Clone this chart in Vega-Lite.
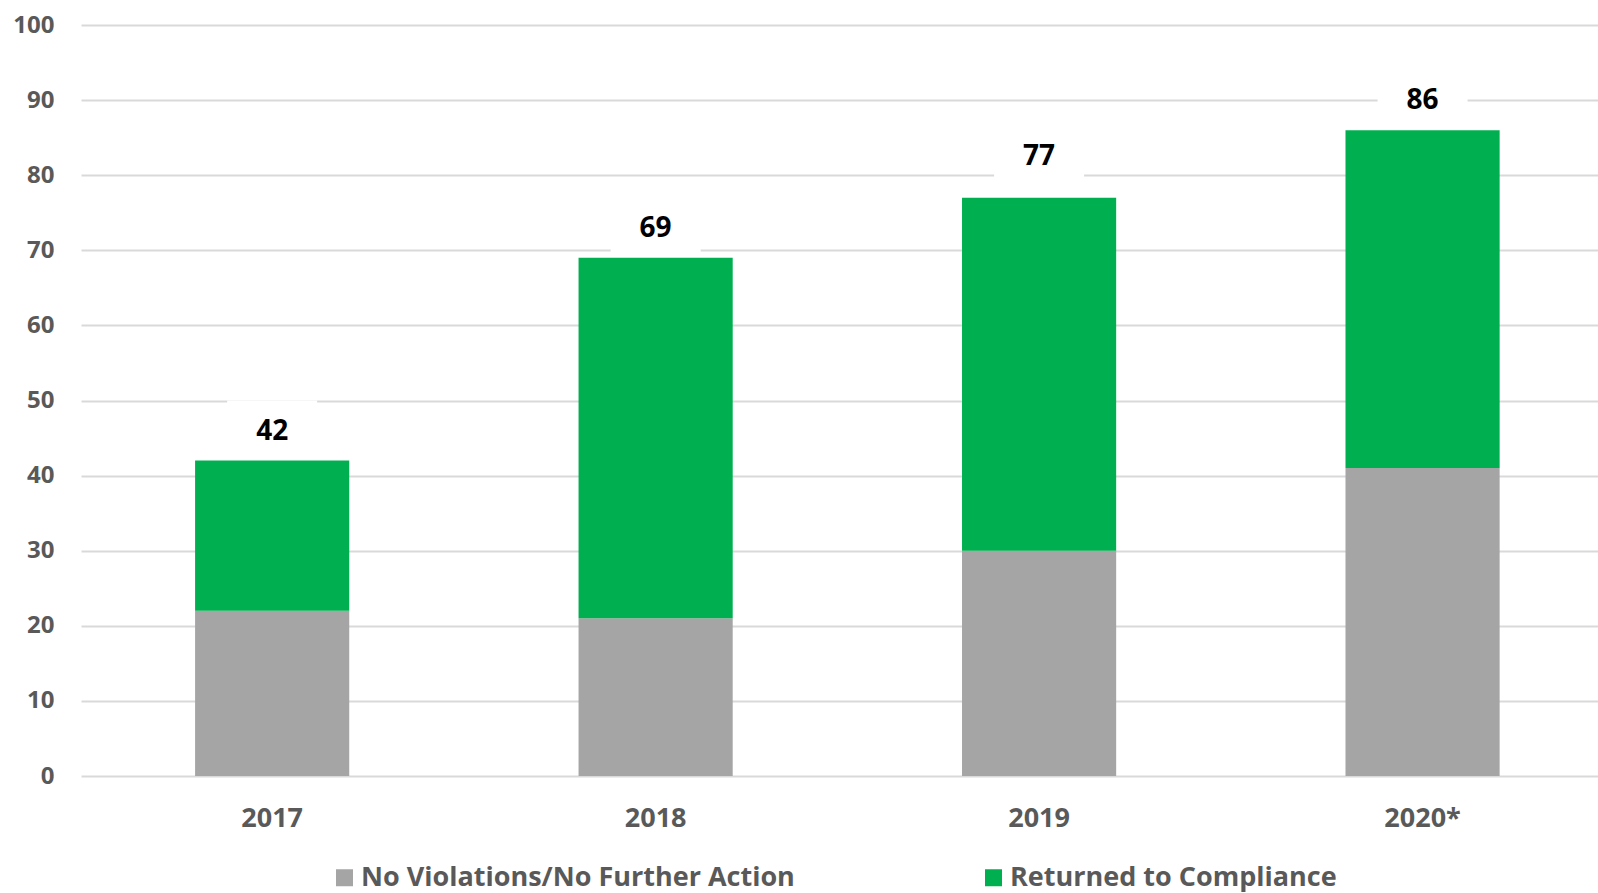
{
  "$schema": "https://vega.github.io/schema/vega-lite/v6.json",
  "width": 1517,
  "height": 751,
  "autosize": {"type": "none"},
  "padding": {"left": 81, "top": 25, "right": 0, "bottom": 117},
  "background": "white",
  "config": {
    "view": {"stroke": null},
    "axis": {"labelFont": "Open Sans", "labelFontWeight": "bold", "labelColor": "#595959"}
  },
  "datasets": {
    "bars": [
      {"year": "2017", "category": "No Violations/No Further Action", "ord": 1, "value": 22},
      {"year": "2017", "category": "Returned to Compliance", "ord": 2, "value": 20},
      {"year": "2018", "category": "No Violations/No Further Action", "ord": 1, "value": 21},
      {"year": "2018", "category": "Returned to Compliance", "ord": 2, "value": 48},
      {"year": "2019", "category": "No Violations/No Further Action", "ord": 1, "value": 30},
      {"year": "2019", "category": "Returned to Compliance", "ord": 2, "value": 47},
      {"year": "2020*", "category": "No Violations/No Further Action", "ord": 1, "value": 41},
      {"year": "2020*", "category": "Returned to Compliance", "ord": 2, "value": 45}
    ],
    "totals": [
      {"year": "2017", "total": 42},
      {"year": "2018", "total": 69},
      {"year": "2019", "total": 77},
      {"year": "2020*", "total": 86}
    ]
  },
  "encoding": {
    "x": {
      "field": "year",
      "type": "nominal",
      "sort": ["2017", "2018", "2019", "2020*"],
      "scale": {"paddingInner": 0.598, "paddingOuter": 0.277, "align": 0.537},
      "axis": {
        "title": null,
        "labelAngle": 0,
        "labelFontSize": 27,
        "labelBaseline": "middle",
        "labelPadding": 42,
        "ticks": false,
        "tickSize": 0,
        "domain": false,
        "grid": false
      }
    }
  },
  "layer": [
    {
      "data": {"name": "bars"},
      "mark": {"type": "bar"},
      "encoding": {
        "y": {
          "field": "value",
          "type": "quantitative",
          "stack": "zero",
          "scale": {"domain": [0, 100], "nice": false},
          "axis": {
            "title": null,
            "values": [0, 10, 20, 30, 40, 50, 60, 70, 80, 90, 100],
            "labelFontSize": 24,
            "labelPadding": 27,
            "ticks": false,
            "tickSize": 0,
            "domain": false,
            "grid": true,
            "gridColor": "#D9D9D9",
            "gridWidth": 2
          }
        },
        "color": {
          "field": "category",
          "type": "nominal",
          "scale": {
            "domain": ["No Violations/No Further Action", "Returned to Compliance"],
            "range": ["#A5A5A5", "#00B050"]
          },
          "legend": {
            "title": null,
            "orient": "none",
            "direction": "horizontal",
            "legendX": 250,
            "legendY": 839,
            "symbolType": "square",
            "symbolSize": 289,
            "symbolStrokeWidth": 0,
            "labelFont": "Open Sans",
            "labelFontWeight": "bold",
            "labelFontSize": 27,
            "labelColor": "#595959",
            "labelOffset": 3,
            "labelLimit": 700,
            "columnPadding": 185
          }
        },
        "order": {"field": "ord", "type": "quantitative"}
      }
    },
    {
      "data": {"name": "totals"},
      "transform": [{"filter": "datum.total != 77"}],
      "mark": {
        "type": "point",
        "shape": "M-1.607,-1L1.607,-1L1.607,1L-1.607,1Z",
        "size": 3136,
        "filled": true,
        "fill": "white",
        "opacity": 1,
        "strokeWidth": 0,
        "yOffset": -32
      },
      "encoding": {
        "y": {"field": "total", "type": "quantitative"}
      }
    },
    {
      "data": {"name": "totals"},
      "transform": [{"filter": "datum.total == 77"}],
      "mark": {
        "type": "point",
        "shape": "M-1.607,-1L1.607,-1L1.607,1L-1.607,1Z",
        "size": 3136,
        "filled": true,
        "fill": "white",
        "opacity": 1,
        "strokeWidth": 0,
        "yOffset": -43
      },
      "encoding": {
        "y": {"field": "total", "type": "quantitative"}
      }
    },
    {
      "data": {"name": "totals"},
      "transform": [{"filter": "datum.total != 77"}],
      "mark": {
        "type": "text",
        "font": "Open Sans",
        "fontSize": 28,
        "fontWeight": "bold",
        "color": "#000000",
        "baseline": "middle",
        "yOffset": -29
      },
      "encoding": {
        "y": {"field": "total", "type": "quantitative"},
        "text": {"field": "total", "type": "quantitative"}
      }
    },
    {
      "data": {"name": "totals"},
      "transform": [{"filter": "datum.total == 77"}],
      "mark": {
        "type": "text",
        "font": "Open Sans",
        "fontSize": 28,
        "fontWeight": "bold",
        "color": "#000000",
        "baseline": "middle",
        "yOffset": -41
      },
      "encoding": {
        "y": {"field": "total", "type": "quantitative"},
        "text": {"field": "total", "type": "quantitative"}
      }
    }
  ]
}
